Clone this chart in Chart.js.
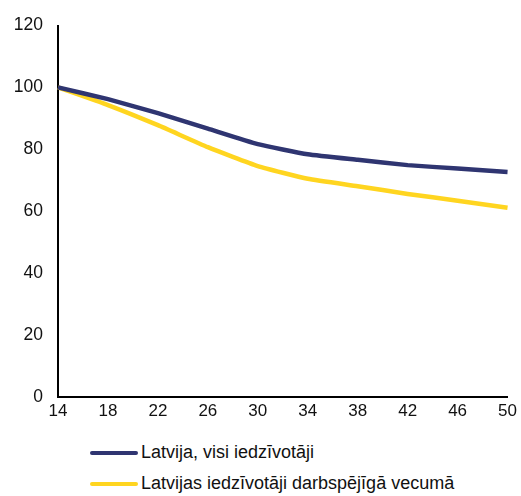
<!DOCTYPE html>
<html lang="lv">
<head>
  <meta charset="UTF-8">
  <title>Latvijas iedzīvotāji</title>
  <script src="https://cdn.jsdelivr.net/npm/chart.js"></script>
  <style>
    body { margin: 0; background: #fff; font-family: "Liberation Sans", Arial, sans-serif; }
    #wrap { position: relative; width: 521px; height: 496px; }
    #chartBox { position: absolute; left: 0; top: 0; width: 521px; height: 425px; }
    #legend { position: absolute; left: 90px; top: 437px; }
    .item { display: flex; align-items: center; height: 31px; font-size: 18px; color: #111; }
    .swatch { width: 48px; height: 4px; margin-right: 3px; border-radius: 2px; flex: none; }
  </style>
</head>
<body>
  <div id="wrap">
    <div id="chartBox"><canvas id="chart"></canvas></div>
    <div id="legend"></div>
  </div>

  <script>
    // gadi (2014-2050, ik pa 4 gadiem)
    const years = ['14', '18', '22', '26', '30', '34', '38', '42', '46', '50'];
    const visiLabel = 'Latvija, visi iedzīvotāji';
    const darbaLabel = 'Latvijas iedzīvotāji darbspējīgā vecumā';
    const visi = [100, 96.2, 91.7, 86.7, 81.7, 78.4, 76.6, 74.9, 73.8, 72.7];
    const darba = [100, 94.3, 87.8, 80.7, 74.6, 70.5, 68.1, 65.6, 63.4, 61.1];
    const yTicks = [0, 20, 40, 60, 80, 100, 120];

    const colors = ['#2f3571', '#ffd520'];

    const chart = new Chart(document.getElementById('chart'), {
      type: 'line',
      data: {
        labels: years,
        datasets: [
          { label: visiLabel, data: visi, borderColor: colors[0], borderWidth: 4.5, pointRadius: 0, tension: 0.15 },
          { label: darbaLabel, data: darba, borderColor: colors[1], borderWidth: 4.5, pointRadius: 0, tension: 0.15 }
        ]
      },
      options: {
        responsive: true,
        maintainAspectRatio: false,
        animation: false,
        layout: { padding: { top: 24, right: 11, left: 0, bottom: 0 } },
        plugins: { legend: { display: false }, tooltip: { enabled: false } },
        scales: {
          x: {
            offset: false,
            grid: { display: false, drawTicks: false },
            border: { color: '#000', width: 2 },
            ticks: { color: '#111', font: { family: 'Liberation Sans', size: 17 }, padding: 4, maxRotation: 0 },
            afterFit: function (s) { s.height = 28; }
          },
          y: {
            min: 0, max: 120,
            grid: { display: false, drawTicks: false },
            border: { color: '#000', width: 2 },
            afterBuildTicks: function (s) { s.ticks = yTicks.map(v => ({ value: v })); },
            ticks: { color: '#111', font: { family: 'Liberation Sans', size: 17.5 }, padding: 15 },
            afterFit: function (s) { s.width = 58; }
          }
        }
      }
    });

    // legenda zem grafika
    const legend = document.getElementById('legend');
    [visiLabel, darbaLabel].forEach(function (lbl, i) {
      const row = document.createElement('div');
      row.className = 'item';
      row.innerHTML = '<span class="swatch" style="background:' + colors[i] + '"></span>' + lbl;
      legend.appendChild(row);
    });
  </script>
</body>
</html>
